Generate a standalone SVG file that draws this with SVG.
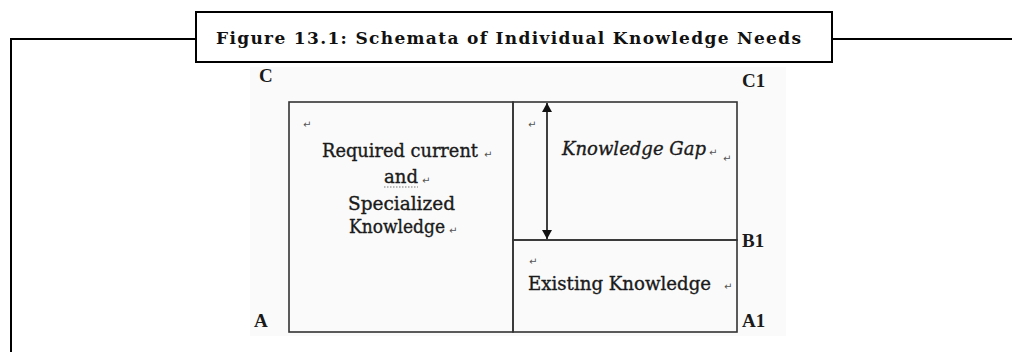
<svg xmlns="http://www.w3.org/2000/svg" width="1012" height="352" viewBox="0 0 1012 352">
<defs>
<style>
.frame{fill:none;stroke:#000;stroke-width:2}
.box{fill:none;stroke:#333;stroke-width:1.6}
.title{font-family:"DejaVu Serif","Liberation Serif",serif;font-weight:bold;font-size:17px;fill:#111}
.lbl{font-family:"Liberation Serif","DejaVu Serif",serif;font-weight:bold;font-size:19px;fill:#1a1a1a}
.txt{font-family:"DejaVu Serif","Liberation Serif",serif;font-size:18px;fill:#1a1a1a;stroke:#1a1a1a;stroke-width:0.35}
.it{font-style:italic}
.ret{font-family:"DejaVu Sans",sans-serif;font-size:10px;fill:#555}
</style>
<marker id="ah" viewBox="0 0 10 10" refX="10" refY="5" markerWidth="9" markerHeight="10" markerUnits="userSpaceOnUse" orient="auto-start-reverse" preserveAspectRatio="none">
<path d="M0,0 L10,5 L0,10 z" fill="#111"/>
</marker>
</defs>
<rect width="1012" height="352" fill="#fff"/>
<g id="frame">
<polyline class="frame" points="196,39 11,39 11,352"/>
<line class="frame" x1="832" y1="39" x2="1012" y2="39"/>
</g>
<g id="title">
<rect x="196" y="12" width="636" height="50" fill="#fff" stroke="#000" stroke-width="2"/>
<text class="title" x="216" y="44" textLength="585" lengthAdjust="spacing">Figure 13.1: Schemata of Individual Knowledge Needs</text>
</g>
<rect x="250" y="67" width="536" height="269" fill="#fafafa"/>
<g id="labels">
<text class="lbl" x="259" y="82">C</text>
<text class="lbl" x="742" y="87">C1</text>
<text class="lbl" x="742" y="247">B1</text>
<text class="lbl" x="742" y="327">A1</text>
<text class="lbl" x="254" y="327">A</text>
</g>
<g id="required">
<rect class="box" x="289" y="102" width="224" height="230"/>
<text class="ret" x="303" y="128">↵</text>
<text class="txt" x="322" y="157" textLength="156" lengthAdjust="spacingAndGlyphs">Required current</text>
<text class="ret" x="484" y="158">↵</text>
<text class="txt" x="384" y="183" textLength="34" lengthAdjust="spacingAndGlyphs">and</text>
<line x1="384" y1="187" x2="418" y2="187" stroke="#777" stroke-width="1.2" stroke-dasharray="1.5,1.5"/>
<text class="ret" x="422" y="184">↵</text>
<text class="txt" x="348" y="210" textLength="107" lengthAdjust="spacingAndGlyphs">Specialized</text>
<text class="txt" x="349" y="233" textLength="96" lengthAdjust="spacingAndGlyphs">Knowledge</text>
<text class="ret" x="449" y="234">↵</text>
</g>
<g id="gap">
<rect class="box" x="513" y="102" width="224" height="138"/>
<text class="ret" x="528" y="128">↵</text>
<text class="txt it" x="562" y="155" textLength="144" lengthAdjust="spacingAndGlyphs">Knowledge Gap</text>
<text class="ret" x="709" y="156">↵</text>
<text class="ret" x="723" y="162">↵</text>
</g>
<g id="existing">
<rect class="box" x="513" y="240" width="224" height="92"/>
<text class="ret" x="529" y="265">↵</text>
<text class="txt" x="528" y="290" textLength="183" lengthAdjust="spacingAndGlyphs">Existing Knowledge</text>
<text class="ret" x="724" y="290">↵</text>
</g>
<g id="connectors">
<line x1="547" y1="103" x2="547" y2="239" stroke="#111" stroke-width="1.6" marker-start="url(#ah)" marker-end="url(#ah)"/>
</g>
</svg>
